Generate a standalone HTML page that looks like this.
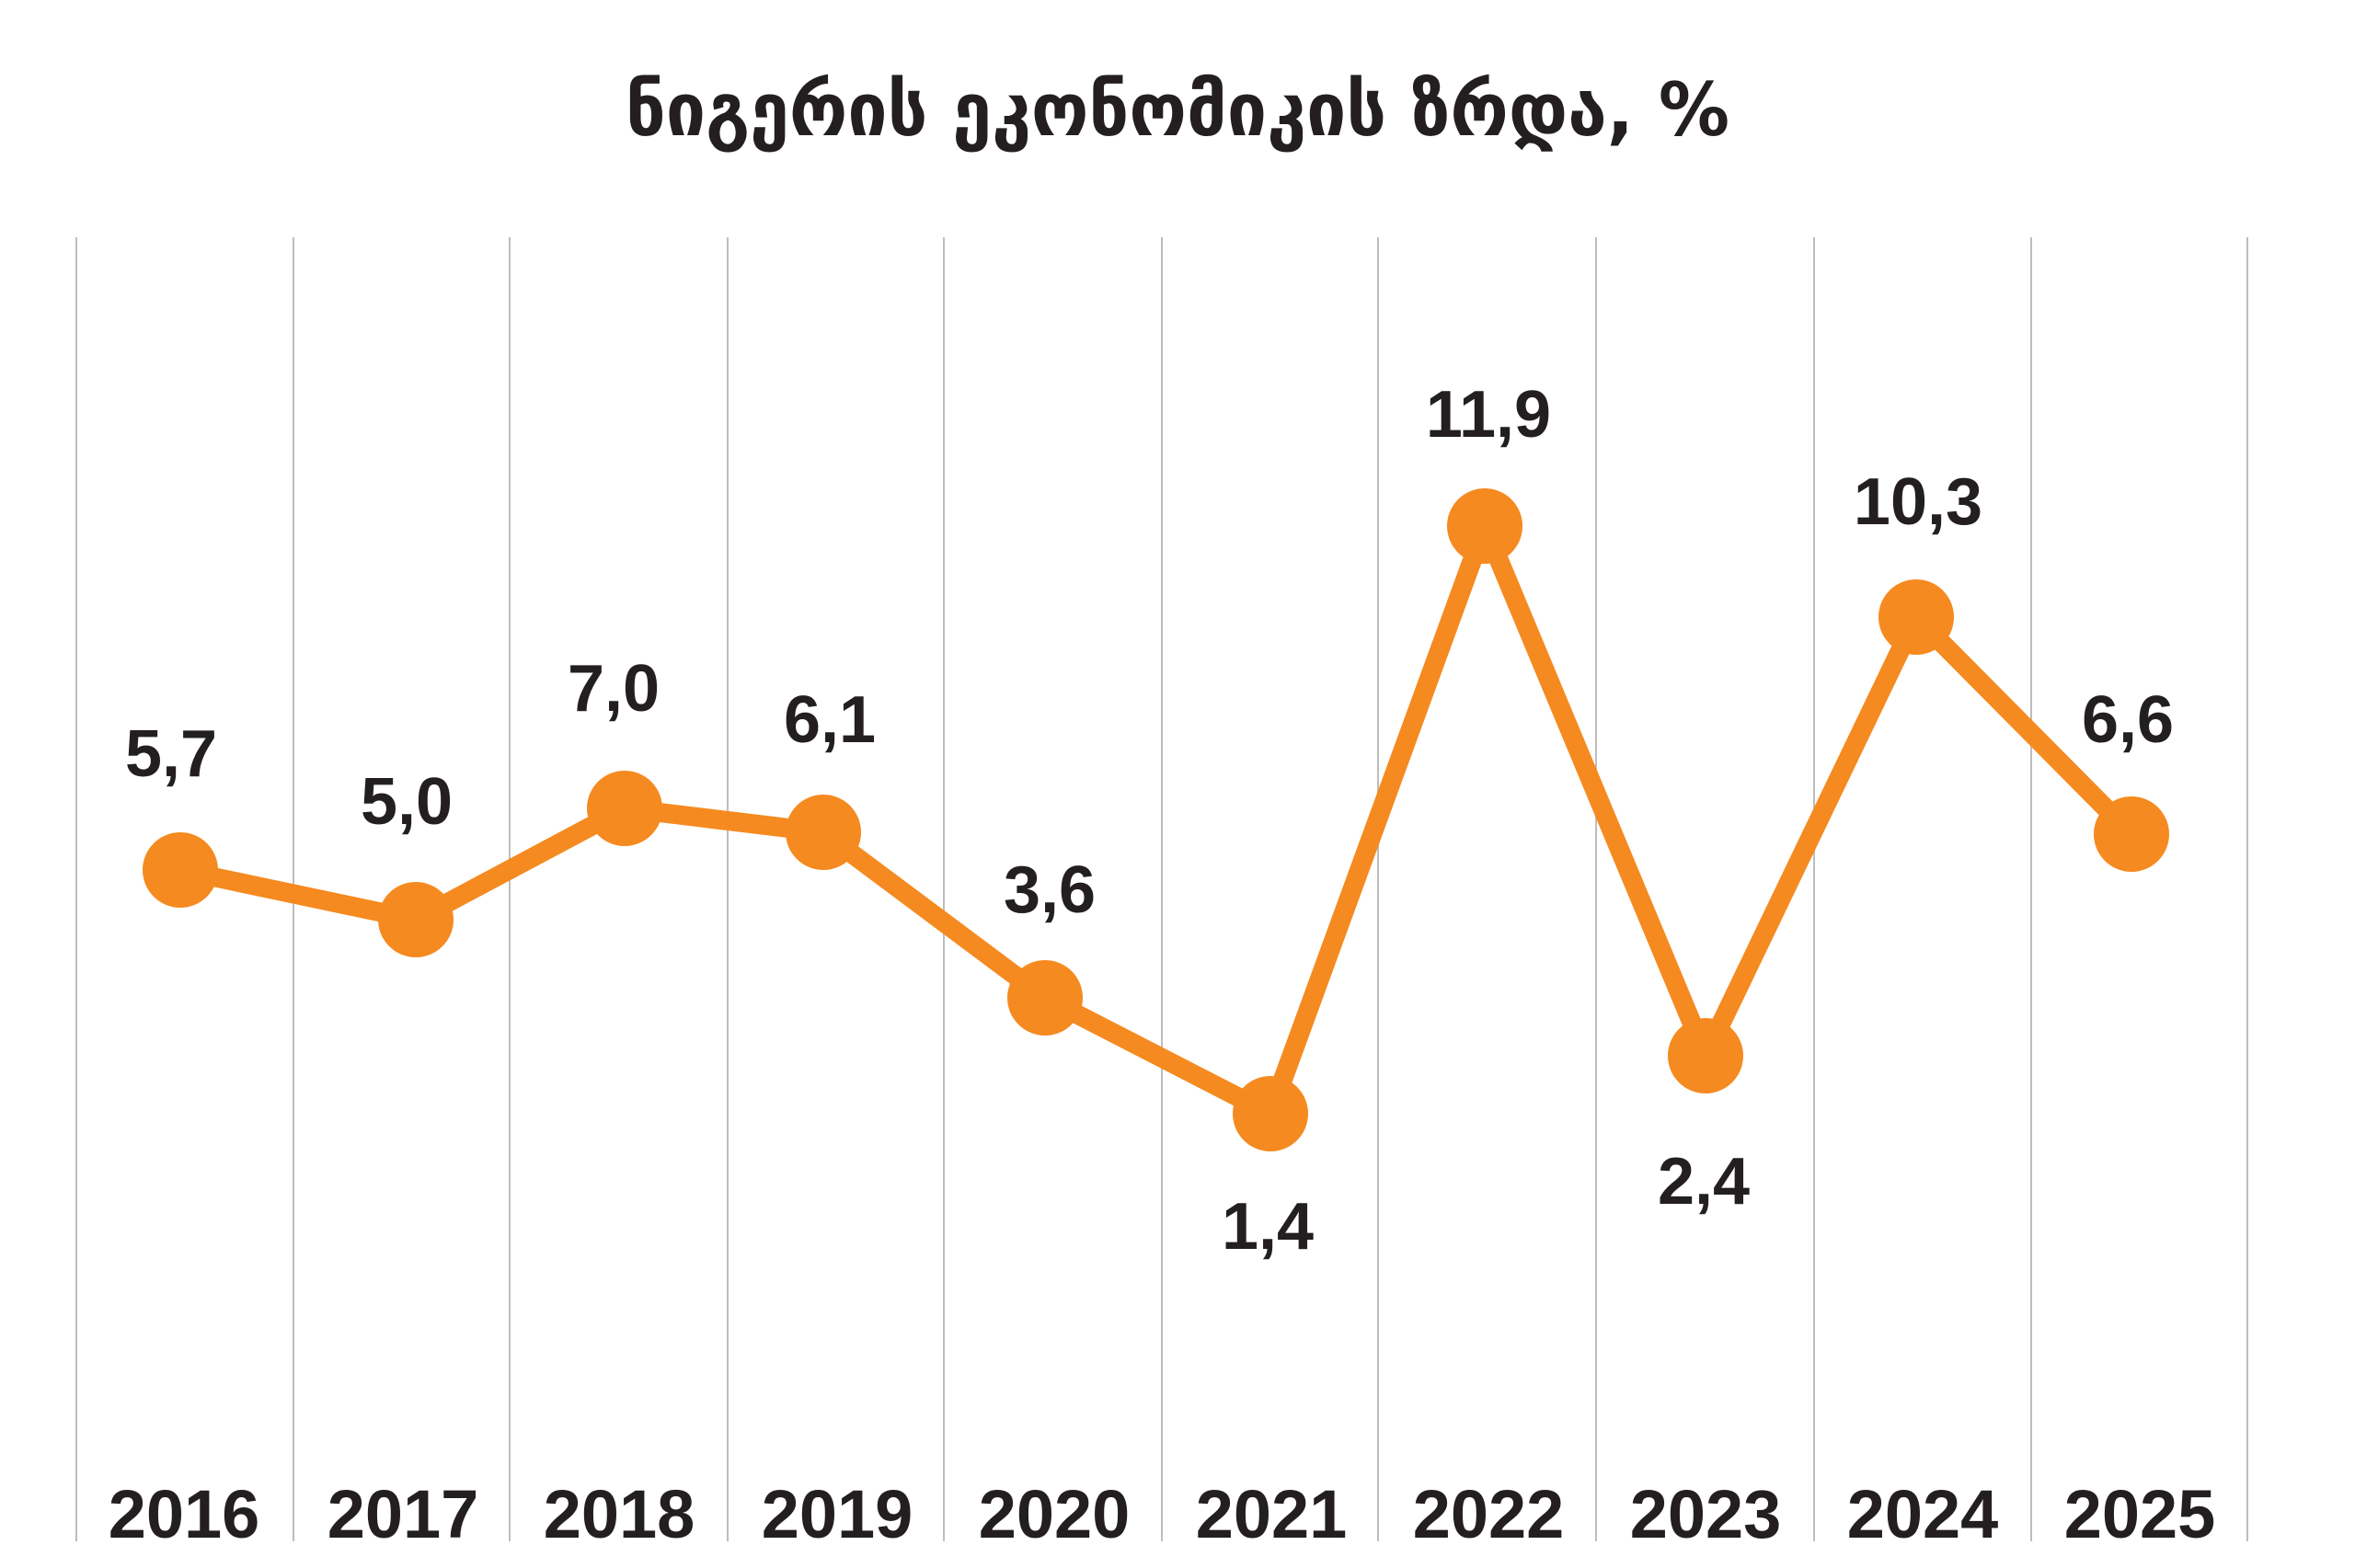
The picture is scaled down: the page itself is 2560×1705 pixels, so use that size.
<!DOCTYPE html>
<html><head><meta charset="utf-8"><style>
html,body{margin:0;padding:0;background:#fff;}
svg{display:block;}
text{font-family:"Liberation Sans","DejaVu Sans",sans-serif;font-weight:bold;fill:#231f20;}
</style></head><body>
<svg width="2560" height="1705" viewBox="0 0 2560 1705" xmlns="http://www.w3.org/2000/svg">
<text x="1280" y="147" font-size="80" text-anchor="middle" textLength="1200" lengthAdjust="spacingAndGlyphs" style="font-family:'DejaVu Sans',sans-serif">ნიგერის ეკონომიკის ზრდა, %</text>
<g stroke="#bdbdbd" stroke-width="2">
<line x1="83" y1="258" x2="83" y2="1676"/><line x1="319" y1="258" x2="319" y2="1676"/>
<line x1="554" y1="258" x2="554" y2="1676"/><line x1="791" y1="258" x2="791" y2="1676"/>
<line x1="1026" y1="258" x2="1026" y2="1676"/><line x1="1263" y1="258" x2="1263" y2="1676"/>
<line x1="1498" y1="258" x2="1498" y2="1676"/><line x1="1735" y1="258" x2="1735" y2="1676"/>
<line x1="1972" y1="258" x2="1972" y2="1676"/><line x1="2208" y1="258" x2="2208" y2="1676"/>
<line x1="2443" y1="258" x2="2443" y2="1676"/>
</g>
<polyline fill="none" stroke="#f58a20" stroke-width="21" stroke-linejoin="round" points="196,946 452,1000 679,879 895,905 1136,1085 1381,1211 1614,572 1854,1148 2083,671 2317,907"/>
<g fill="#f58a20">
<circle cx="196" cy="946" r="41"/><circle cx="452" cy="1000" r="41"/><circle cx="679" cy="879" r="41"/>
<circle cx="895" cy="905" r="41"/><circle cx="1136" cy="1085" r="41"/><circle cx="1381" cy="1211" r="41"/>
<circle cx="1614" cy="572" r="41"/><circle cx="1854" cy="1148" r="41"/><circle cx="2083" cy="671" r="41"/>
<circle cx="2317" cy="907" r="41"/>
</g>
<g font-size="72" text-anchor="middle">
<text x="186" y="844">5,7</text><text x="442" y="896">5,0</text><text x="667" y="773">7,0</text>
<text x="902" y="807">6,1</text><text x="1141" y="992">3,6</text><text x="1378" y="1358">1,4</text>
<text x="1618" y="475">11,9</text><text x="1852" y="1309">2,4</text><text x="2085" y="570">10,3</text>
<text x="2313" y="807">6,6</text>
</g>
<g font-size="74" text-anchor="middle">
<text x="200" y="1672">2016</text><text x="438" y="1672">2017</text><text x="673" y="1672">2018</text>
<text x="910" y="1672">2019</text><text x="1146" y="1672">2020</text><text x="1382" y="1672">2021</text>
<text x="1618" y="1672">2022</text><text x="1854" y="1672">2023</text><text x="2090" y="1672">2024</text>
<text x="2326" y="1672">2025</text>
</g>
</svg>
</body></html>
